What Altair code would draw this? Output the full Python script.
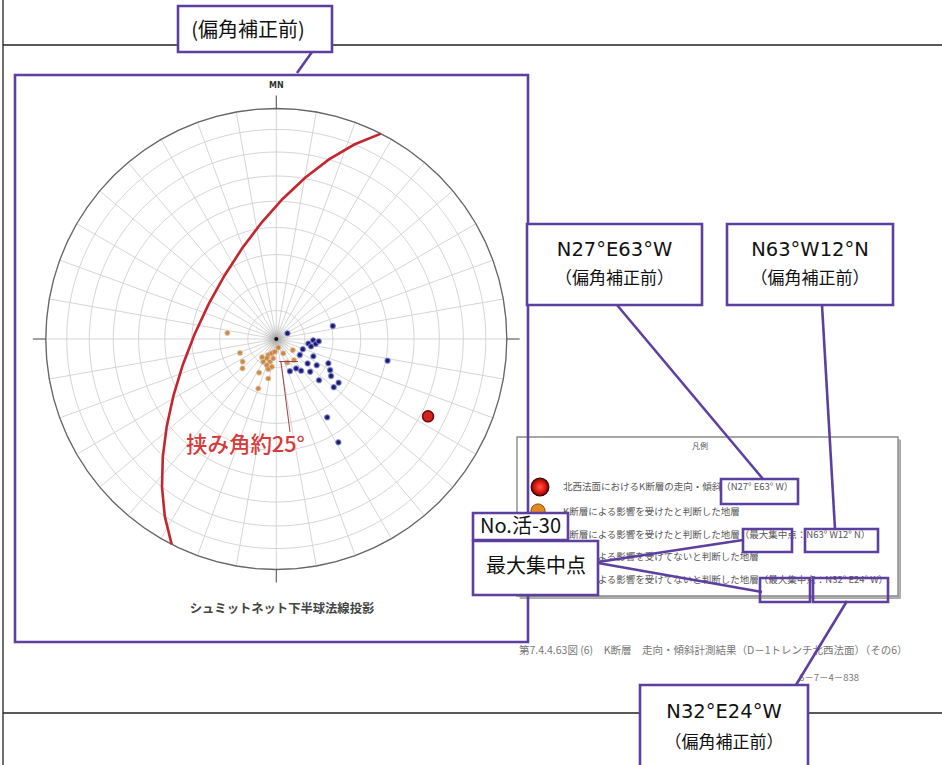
import altair as alt
import pandas as pd

# ---------------- data ----------------
# Poles to bedding planes, lower hemisphere (trend / plunge, degrees)
affected_trend = [277, 249, 236, 229, 207, 191.5, 200, 167, 154, 124, 140, 155,
                  207, 198, 206, 210, 195.5, 189, 200, 189, 186, 218, 195]
affected_plunge = [72.6, 76.3, 75.7, 74.2, 76.7, 75.8, 71.4, 86.9, 84.4, 83, 80.3, 80.9,
                   83.7, 84.7, 82.4, 80.8, 81.7, 83.1, 80.2, 80.1, 85.5, 81.9, 79]
unaffected_trend = [63, 77, 92, 98, 97, 102, 111, 124, 115, 115, 128, 146, 157, 142,
                    134, 120, 124, 125, 130, 134, 147, 149, 101, 93, 123]
unaffected_plunge = [85.6, 69.5, 77, 78.6, 76, 77.5, 80, 80, 75.6, 69.7, 76, 77.5, 77.7, 75.8,
                     73.4, 68, 66.6, 63, 63.4, 69, 56.7, 46.6, 49.3, 75, 73]

# K fault on the north-west slope: N27°E 63°W
fault_strike = 27
fault_dip = 63
fault_dip_dir = 297

net_caption = "シュミットネット下半球法線投影"
north_label = "MN"
angle_label = "挟み角約25°"
tag_before = "(偏角補正前)"
tag_before_wide = "（偏角補正前）"
fault_label = "N27°E63°W"
affected_max_label = "N63°W12°N"
unaffected_max_label = "N32°E24°W"
site_label = "No.活-30"
max_label = "最大集中点"
legend_title = "凡例"
legend_rows = [
    "北西法面におけるK断層の走向・傾斜（N27° E63° W）",
    "K断層による影響を受けたと判断した地層",
    "K断層による影響を受けたと判断した地層（最大集中点：N63° W12° N）",
    "K断層による影響を受けてないと判断した地層",
    "K断層による影響を受けてないと判断した地層（最大集中点：N32° E24° W）",
]
figure_caption = "第7.4.4.63図 (6)　K断層　走向・傾斜計測結果（D－1トレンチ北西法面）（その6）"
page_label = "6－7－4－838"

# ---------------- styling ----------------
JP = "Noto Sans CJK JP"
PURPLE = "#5d3f9f"
FRAME = "#222222"
GRID = "#d0d0d0"
RED = "#c3262e"

NET_R = 230.5
PROJ = dict(type="azimuthalEqualArea", rotate=[0, -90, 0],
            scale=NET_R / 2 ** 0.5, translate=[276.3, 339])


def lonlat(trend, plunge):
    # direction (trend, plunge) -> sphere coordinates, north up, east right
    return [180 - trend, plunge]


def feature(coords):
    return {"type": "Feature", "properties": {},
            "geometry": {"type": "LineString", "coordinates": coords}}


ONE = alt.Data(values=[{"k": 0}])


def seg(x1, y1, x2, y2, color=PURPLE, width=2.6):
    return alt.Chart(ONE).mark_rule(color=color, strokeWidth=width).encode(
        x=alt.value(x1), y=alt.value(y1), x2=alt.value(x2), y2=alt.value(y2))


def box(x1, y1, x2, y2, stroke=PURPLE, width=2.6, fill="white", fill_opacity=1.0):
    return alt.Chart(ONE).mark_rect(fill=fill, fillOpacity=fill_opacity,
                                    stroke=stroke, strokeWidth=width).encode(
        x=alt.value(x1), y=alt.value(y1), x2=alt.value(x2), y2=alt.value(y2))


def label(s, x, y, size, color="#111111", font=JP, weight="normal", align="center"):
    return alt.Chart(ONE).mark_text(text=s, fontSize=size, font=font, color=color,
                                    fontWeight=weight, align=align, baseline="middle").encode(
        x=alt.value(x), y=alt.value(y))


def dot(x, y, size, fill, stroke="#333333", width=1.0):
    return alt.Chart(ONE).mark_circle(size=size, fill=fill, opacity=1, stroke=stroke,
                                      strokeWidth=width).encode(
        x=alt.value(x), y=alt.value(y))


# ---------------- page frame ----------------
frame = [
    seg(3, 0, 3, 765, FRAME, 1.3),
    seg(3, 45, 942, 45, FRAME, 1.3),
    seg(3, 713, 942, 713, FRAME, 1.3),
]

# ---------------- Schmidt net ----------------
grat = alt.Chart(alt.graticule(step=[10, 10], extent=[[-180, 0], [180, 90]])).mark_geoshape(
    filled=False, stroke=GRID, strokeWidth=0.9).project(**PROJ)

rim = alt.Chart(alt.Data(values=[feature([[lo, 0] for lo in range(-180, 181, 10)])])).mark_geoshape(
    filled=False, stroke="#666666", strokeWidth=1.3).project(**PROJ)

# short axis ticks just outside the primitive circle (N, E, S, W)
ticks = alt.Chart(alt.Data(values=[feature([lonlat(t, 0), lonlat(t, -6.6)]) for t in (0, 90, 180, 270)])
                  ).mark_geoshape(filled=False, stroke="#555555", strokeWidth=1.1).project(**PROJ)

haze = alt.Chart(alt.Data(values=[{"lon": 0, "lat": 90}])).mark_circle(
    size=1500, opacity=1,
    fill=alt.RadialGradient(gradient="radial", stops=[
        alt.GradientStop(offset=0, color="rgba(110,110,110,0.55)"),
        alt.GradientStop(offset=0.45, color="rgba(170,170,170,0.25)"),
        alt.GradientStop(offset=1, color="rgba(255,255,255,0)")])
).encode(longitude="lon:Q", latitude="lat:Q").project(**PROJ)

great_circle = alt.Chart(alt.Data(values=[feature([
    lonlat(fault_strike, 0),
    lonlat(fault_dip_dir, fault_dip),
    lonlat(fault_strike + 180, 0),
])])).mark_geoshape(filled=False, stroke=RED, strokeWidth=2.6).project(**PROJ)

aff = pd.DataFrame({"trend": affected_trend, "plunge": affected_plunge})
unaff = pd.DataFrame({"trend": unaffected_trend, "plunge": unaffected_plunge})

orange_pts = alt.Chart(aff).transform_calculate(lon="180 - datum.trend").mark_circle(
    size=27, fill="#c2742c", opacity=0.82, stroke="#e8c29a", strokeWidth=0.8
).encode(longitude="lon:Q", latitude="plunge:Q").project(**PROJ)

blue_pts = alt.Chart(unaff).transform_calculate(lon="180 - datum.trend").mark_circle(
    size=27, fill="#1c1b6c", opacity=1, stroke="#8183d8", strokeWidth=1.3, strokeOpacity=0.7
).encode(longitude="lon:Q", latitude="plunge:Q").project(**PROJ)

centre = alt.Chart(alt.Data(values=[{"lon": 0, "lat": 90}])).mark_circle(
    size=16, fill="#111111", opacity=1).encode(
    longitude="lon:Q", latitude="lat:Q").project(**PROJ)

fault_pole = alt.Chart(alt.Data(values=[{"trend": fault_dip_dir - 180, "plunge": 90 - fault_dip}])
                       ).transform_calculate(lon="180 - datum.trend").mark_circle(
    size=120, fill="#d42222", opacity=1, stroke="#6e0c0c", strokeWidth=1.6
).encode(longitude="lon:Q", latitude="plunge:Q").project(**PROJ)

net_text = [
    label(north_label, 276.3, 86, 8, "#333333", "DejaVu Sans", "bold"),
    label(net_caption, 282, 609, 12.3, "#444444", JP, "bold"),
    seg(279, 361.5, 298, 361.5, "#a0404e", 1.0),
    seg(281, 362, 290, 432, "#a0404e", 1.0),
    label(angle_label, 186, 446, 21.5, "#d63a3a", JP, 500, "left"),
]

# ---------------- legend ----------------
legend_y = [487, 512, 535, 557, 580]
legend = [
    box(520, 440, 900.5, 598.5, "#a8a8a8", 1, "#b4b4b4"),
    box(517, 437, 898, 596, "#8a8a8a", 1.4, "white"),
    label(legend_title, 700, 447, 8, "#555555"),
]
for ty, row in zip(legend_y, legend_rows):
    legend.append(label(row, 563, ty, 9.5, "#575757", JP, "normal", "left"))
legend += [
    dot(540, 487, 314, alt.RadialGradient(gradient="radial", stops=[
        alt.GradientStop(offset=0, color="#ff5a48"),
        alt.GradientStop(offset=0.6, color="#e01a10"),
        alt.GradientStop(offset=1, color="#7a0606")]), "#3a0606", 1.2),
    dot(538, 511, 200, "#e4891f", "#8a4a10", 1.0),
    dot(538, 534, 200, "#e4891f", "#8a4a10", 1.0),
    dot(538, 557, 200, "#2a2a9a", "#101040", 1.0),
    dot(538, 580, 200, "#2a2a9a", "#101040", 1.0),
]

# ---------------- outlines and captions ----------------
panel = [box(15, 75, 528, 642, PURPLE, 2.6, "white", 0.0)]

captions = [
    label(figure_caption, 519, 651, 10.5, "#777777", JP, "normal", "left"),
    label(page_label, 829, 678, 9.5, "#777777", JP),
]

small_boxes = [
    box(721, 479, 798, 504, fill_opacity=0.0),
    box(743, 529, 792, 552, fill_opacity=0.0),
    box(805, 529, 878, 552, fill_opacity=0.0),
    box(760, 578, 810, 602, fill_opacity=0.0),
    box(813, 578, 888, 602, fill_opacity=0.0),
]

callouts = [
    box(178, 6, 332, 52),
    label(tag_before, 248, 31, 20),
    box(527, 224, 702, 305),
    label(fault_label, 614.5, 250, 19.5, "#111111", "DejaVu Sans"),
    label(tag_before_wide, 614.5, 279, 17),
    box(727, 224, 893, 305),
    label(affected_max_label, 810, 250, 19.5, "#111111", "DejaVu Sans"),
    label(tag_before_wide, 810, 279, 17),
    box(473, 513, 568, 540),
    label(site_label, 520.5, 527, 20),
    box(473, 541, 598, 595),
    label(max_label, 536, 567, 20),
    box(640, 685, 808, 780),
    label(unaffected_max_label, 724, 712, 19.5, "#111111", "DejaVu Sans"),
    label(tag_before_wide, 724, 743, 17),
]

connectors = [
    seg(312, 52, 297, 73),
    seg(617, 305, 763, 479),
    seg(822, 305, 835, 529),
    seg(598, 562, 743, 540),
    seg(598, 563, 762, 592),
    seg(796, 685, 847, 601),
]

layers = (frame + [grat, haze, rim, ticks, great_circle, orange_pts, blue_pts, centre, fault_pole]
          + net_text + legend + panel + captions + small_boxes + callouts + connectors)

chart = alt.layer(*layers).properties(
    width=942, height=765, padding=0, autosize=alt.AutoSizeParams(type="none"),
    background="white",
).configure_view(stroke=None)

chart.save("out.html", embed_options={"renderer": "svg", "actions": False})
